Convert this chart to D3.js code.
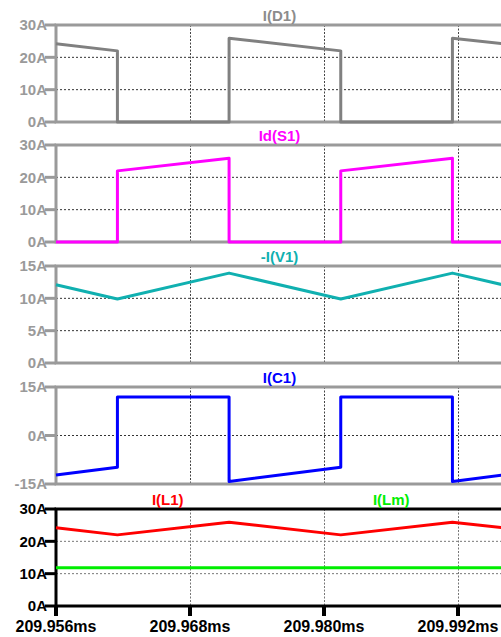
<!DOCTYPE html>
<html>
<head>
<meta charset="utf-8">
<script src="https://cdn.jsdelivr.net/npm/d3@7"></script>
<style>
  body { margin: 0; background: #fff; }
  svg { display: block; font-family: "Liberation Sans", Arial, sans-serif; font-weight: bold; }
</style>
</head>
<body>
<div id="chart"></div>
<script>
// waveform data (time in ms, current in A)
const xTicks = [209.956, 209.968, 209.980, 209.992];
const xTickLabels = ["209.956ms", "209.968ms", "209.980ms", "209.992ms"];

const tStep = [209.956, 209.9615, 209.9615, 209.9715, 209.9715, 209.9815, 209.9815, 209.9915, 209.9915, 209.996];
const tRamp = [209.956, 209.9615, 209.9715, 209.9815, 209.9915, 209.996];
const tFlat = [209.956, 209.996];

const iD1 = [24.2, 22, 0, 0, 25.9, 22, 0, 0, 25.9, 24.2];
const idS1 = [0, 0, 22, 25.9, 0, 0, 22, 25.9, 0, 0];
const iV1 = [12.1, 9.9, 13.9, 9.9, 13.9, 12.1];
const iC1 = [-12.2, -9.8, 11.9, 11.9, -14.2, -9.8, 11.9, 11.9, -14.2, -12.2];
const iL1 = [24.2, 22, 25.9, 22, 25.9, 24.2];
const iLm = [11.85, 11.85];

const yTicks30 = [0, 10, 20, 30];
const yTicks15 = [0, 5, 10, 15];
const yTicksC1 = [-15, 0, 15];

// panels
const panels = [
    { top: 25, domain: [0, 30], ticks: yTicks30, traces: [{ name: "I(D1)", t: tStep, v: iD1, color: "#808080", labelColor: "#8c8c8c" }] },
    { top: 145, domain: [0, 30], ticks: yTicks30, traces: [{ name: "Id(S1)", t: tStep, v: idS1, color: "#ff00ff" }] },
    { top: 266, domain: [0, 15], ticks: yTicks15, traces: [{ name: "-I(V1)", t: tRamp, v: iV1, color: "#10b0b0" }] },
    { top: 387, domain: [-15, 15], ticks: yTicksC1, traces: [{ name: "I(C1)", t: tStep, v: iC1, color: "#0000ff" }] },
    { top: 509, domain: [0, 30], ticks: yTicks30, dark: true, traces: [
        { name: "I(L1)", t: tRamp, v: iL1, color: "#ff0000" },
        { name: "I(Lm)", t: tFlat, v: iLm, color: "#00ee00" }
    ] }
];

const W = 501, H = 637;
const left = 56, right = 503;
const ph = 97;

const svg = d3.select("#chart").append("svg")
    .attr("width", W)
    .attr("height", H);

const x = d3.scaleLinear()
    .domain([209.956, 209.956 + (right - left) / 134 * 0.012])
    .range([left, right]);

panels.forEach((p, pi) => {
    const bottom = p.top + ph;
    const y = d3.scaleLinear().domain(p.domain).range([bottom, p.top]);
    const frameCol = p.dark ? "#000" : "#9a9a9a";
    const g = svg.append("g");

    // grid lines
    g.selectAll(".hgrid")
        .data(p.ticks.filter(d => d !== p.domain[0] && d !== p.domain[1]))
        .enter().append("line")
        .attr("x1", left).attr("x2", right)
        .attr("y1", d => y(d)).attr("y2", d => y(d))
        .attr("stroke", p.dark ? "#777" : "#333")
        .attr("stroke-width", 1)
        .attr("stroke-dasharray", "2,2");

    g.selectAll(".vgrid")
        .data(xTicks.slice(1))
        .enter().append("line")
        .attr("x1", d => Math.round(x(d)) + 0.5).attr("x2", d => Math.round(x(d)) + 0.5)
        .attr("y1", p.top).attr("y2", bottom)
        .attr("stroke", p.dark ? "#777" : "#444")
        .attr("stroke-width", 1)
        .attr("stroke-dasharray", "2,1.5");

    // frame
    g.append("rect")
        .attr("x", left).attr("y", p.top)
        .attr("width", right - left).attr("height", ph)
        .attr("fill", "none")
        .attr("stroke", frameCol)
        .attr("stroke-width", 3);

    // y ticks + labels
    g.selectAll(".ytick")
        .data(p.ticks)
        .enter().append("line")
        .attr("x1", 45).attr("x2", left)
        .attr("y1", d => y(d)).attr("y2", d => y(d))
        .attr("stroke", frameCol)
        .attr("stroke-width", 3);

    g.selectAll(".ylab")
        .data(p.ticks)
        .enter().append("text")
        .attr("x", 47)
        .attr("y", d => y(d))
        .attr("dy", "0.36em")
        .attr("text-anchor", "end")
        .attr("fill", p.dark ? "#000" : "#9a9a9a")
        .style("font-size", "15px")
        .text(d => d + "A");

    // traces
    const line = d3.line()
        .x(d => x(d[0]))
        .y(d => y(d[1]));

    p.traces.forEach((tr, ti) => {
        g.append("path")
            .attr("d", line(d3.zip(tr.t, tr.v)))
            .attr("fill", "none")
            .attr("stroke", tr.color)
            .attr("stroke-width", 3)
            .attr("stroke-linejoin", "round");

        // trace names, spread like LTspice does
        const n = p.traces.length;
        const cx = n === 1 ? (left + right) / 2 : left + (right - left) * (2 * ti + 1) / (2 * n);
        g.append("text")
            .attr("x", cx)
            .attr("y", p.top - 4)
            .attr("text-anchor", "middle")
            .attr("fill", tr.labelColor || tr.color)
            .style("font-size", "15px")
            .text(tr.name);
    });

    // x axis only under the last panel
    if (pi === panels.length - 1) {
        g.selectAll(".xtick")
            .data(xTicks)
            .enter().append("line")
            .attr("x1", d => x(d)).attr("x2", d => x(d))
            .attr("y1", bottom).attr("y2", bottom + 10)
            .attr("stroke", "#000")
            .attr("stroke-width", 4);

        g.selectAll(".xlab")
            .data(xTicks)
            .enter().append("text")
            .attr("x", d => x(d))
            .attr("y", bottom + 26)
            .attr("text-anchor", "middle")
            .attr("fill", "#000")
            .style("font-size", "16px")
            .text((d, i) => xTickLabels[i]);
    }
});
</script>
</body>
</html>
